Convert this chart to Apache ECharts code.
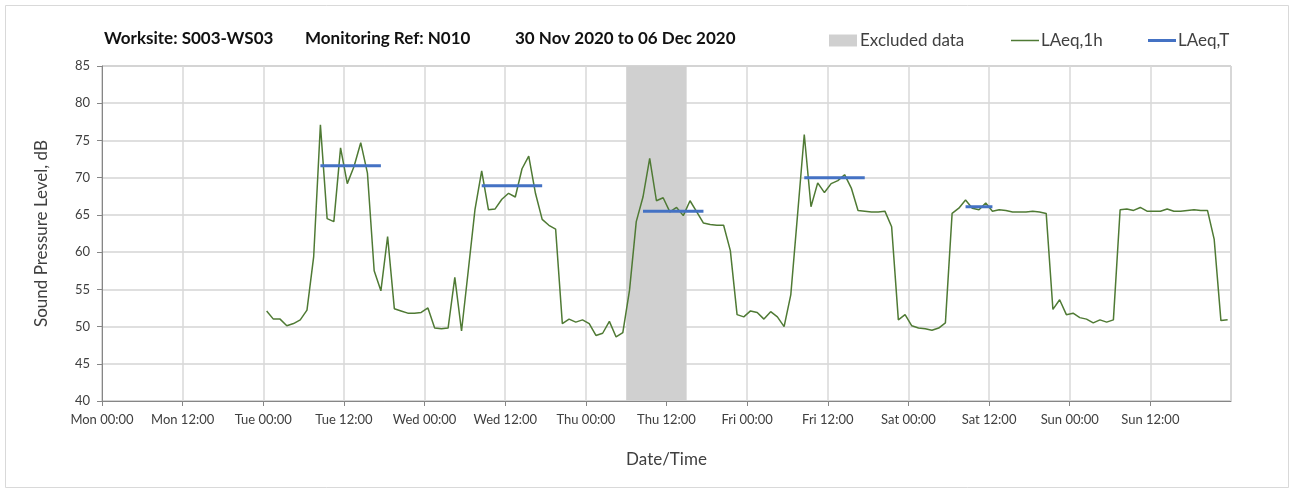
<!DOCTYPE html>
<html>
<head>
<meta charset="utf-8">
<script src="https://cdn.jsdelivr.net/npm/echarts@6/dist/echarts.min.js"></script>
<style>
  html, body { margin: 0; padding: 0; background: #ffffff; }
  #chart { width: 1295px; height: 492px; }
</style>
</head>
<body>
<div id="chart"></div>
<script>
// Axis tick labels, one every 12 hours from Monday 00:00
const tickLabels = [
  'Mon 00:00', 'Mon 12:00', 'Tue 00:00', 'Tue 12:00', 'Wed 00:00', 'Wed 12:00',
  'Thu 00:00', 'Thu 12:00', 'Fri 00:00', 'Fri 12:00', 'Sat 00:00', 'Sat 12:00',
  'Sun 00:00', 'Sun 12:00'
];

// Hourly LAeq,1h (dB), Tuesday to Sunday, one value per hour 00-23
const laeq1hTue = [52.1, 51.0, 51.0, 50.1, 50.4, 50.9, 52.2, 59.4, 77.1, 64.5, 64.1, 74.0,
                   69.2, 71.5, 74.7, 70.6, 57.5, 54.8, 62.1, 52.4, 52.1, 51.8, 51.8, 51.9];
const laeq1hWed = [52.5, 49.8, 49.7, 49.8, 56.6, 49.4, 57.5, 65.7, 70.9, 65.7, 65.8, 67.1,
                   67.9, 67.4, 71.2, 72.9, 67.9, 64.4, 63.6, 63.1, 50.4, 51.0, 50.6, 50.9];
const laeq1hThu = [50.4, 48.8, 49.1, 50.7, 48.6, 49.2, 54.9, 64.1, 67.4, 72.6, 66.9, 67.3,
                   65.4, 66.0, 64.9, 66.9, 65.4, 63.9, 63.7, 63.6, 63.6, 60.2, 51.6, 51.3];
const laeq1hFri = [52.1, 51.9, 51.0, 52.0, 51.3, 50.0, 54.3, 65.0, 75.8, 66.1, 69.3, 68.0,
                   69.2, 69.6, 70.4, 68.6, 65.6, 65.5, 65.4, 65.4, 65.5, 63.4, 50.9, 51.6];
const laeq1hSat = [50.1, 49.8, 49.7, 49.5, 49.8, 50.5, 65.2, 65.9, 67.0, 65.9, 65.7, 66.6,
                   65.5, 65.7, 65.6, 65.4, 65.4, 65.4, 65.5, 65.4, 65.2, 52.3, 53.6, 51.6];
const laeq1hSun = [51.8, 51.2, 51.0, 50.5, 50.9, 50.6, 50.9, 65.7, 65.8, 65.6, 66.0, 65.5,
                   65.5, 65.5, 65.8, 65.5, 65.5, 65.6, 65.7, 65.6, 65.6, 61.7, 50.8, 50.9];

// LAeq,T for each working period (day index counted from Monday = 0)
const laeqTDays = [1, 2, 3, 4, 5];
const laeqTValues = [71.6, 68.9, 65.5, 70.0, 66.1];
const laeqTFirstHour = [8, 8, 8, 8, 8];
const laeqTLastHour = [17, 17, 17, 17, 12];

// Excluded period, hours from Monday 00:00 (Thu 06:00 to Thu 15:00)
const excludedPeriod = [78, 87];

// Each hourly value is plotted at the middle of its hour
const sampleOffset = 0.5;

const hourlyDays = [laeq1hTue, laeq1hWed, laeq1hThu, laeq1hFri, laeq1hSat, laeq1hSun];
const firstHourlyDay = 1;

const hourlySeriesData = [];
hourlyDays.forEach((values, d) => {
  values.forEach((v, h) => {
    hourlySeriesData.push([(firstHourlyDay + d) * 24 + h + sampleOffset, v]);
  });
});

const FONT = 'Lato, "Noto Sans", "DejaVu Sans", sans-serif';
const TEXT = '#404040';

const laeqTSeries = laeqTDays.map((day, i) => {
  const pts = [];
  for (let h = laeqTFirstHour[i]; h <= laeqTLastHour[i]; h++) {
    pts.push([day * 24 + h + sampleOffset, laeqTValues[i]]);
  }
  return {
    name: 'LAeq,T',
    type: 'line',
    data: pts,
    symbol: 'none',
    z: 4,
    lineStyle: { color: '#4472C4', width: 3 },
    itemStyle: { color: '#4472C4' },
    silent: true
  };
});

const titleStyle = { fontFamily: FONT, fontSize: 17, fontWeight: 'bold', color: '#111111' };
const legendText = { fontFamily: FONT, fontSize: 17, color: TEXT };

const chart = echarts.init(document.getElementById('chart'), null, { renderer: 'canvas' });

chart.setOption({
  animation: false,
  backgroundColor: '#ffffff',
  textStyle: { fontFamily: FONT },
  graphic: [{
    type: 'rect',
    shape: { x: 5.5, y: 5.5, width: 1283, height: 482 },
    style: { fill: 'none', stroke: '#d9d9d9', lineWidth: 1 },
    silent: true,
    z: -10
  }],
  title: [
    { text: 'Worksite: S003-WS03', left: 104, top: 30, padding: 0, textStyle: titleStyle },
    { text: 'Monitoring Ref: N010', left: 305, top: 30, padding: 0, textStyle: titleStyle },
    { text: '30 Nov 2020 to 06 Dec 2020', left: 515, top: 30, padding: 0, textStyle: titleStyle }
  ],
  legend: [
    { data: [{ name: 'Excluded data', icon: 'rect' }], left: 829, top: 32, padding: 0,
      itemWidth: 28, itemHeight: 12, itemGap: 0, selectedMode: false,
      textStyle: Object.assign({ padding: [0, 0, 0, -2] }, legendText) },
    { data: [{ name: 'LAeq,1h', icon: 'rect' }], left: 1011, top: 32, padding: 0,
      itemWidth: 28, itemHeight: 1.5, itemGap: 0, selectedMode: false,
      textStyle: Object.assign({ padding: [0, 0, 0, -3] }, legendText) },
    { data: [{ name: 'LAeq,T', icon: 'rect' }], left: 1148, top: 32, padding: 0,
      itemWidth: 28, itemHeight: 3, itemGap: 0, selectedMode: false,
      textStyle: Object.assign({ padding: [0, 0, 0, -3] }, legendText) }
  ],
  grid: {
    left: 102, right: 64, top: 66, bottom: 91,
    show: true, borderColor: '#a6a6a6', borderWidth: 1, backgroundColor: 'transparent'
  },
  xAxis: {
    type: 'value',
    min: 0, max: 168, interval: 12,
    name: 'Date/Time',
    nameLocation: 'middle',
    nameGap: 50,
    nameTextStyle: { fontFamily: FONT, fontSize: 17, color: TEXT },
    axisLine: { show: true, lineStyle: { color: '#868686', width: 1 } },
    axisTick: { show: true, length: 5, lineStyle: { color: '#868686' } },
    axisLabel: {
      fontFamily: FONT, fontSize: 13, color: TEXT, margin: 12,
      showMaxLabel: false,
      formatter: v => tickLabels[Math.round(v / 12)] || ''
    },
    splitLine: { show: true, lineStyle: { color: '#d9d9d9', width: 1.5 } }
  },
  yAxis: {
    type: 'value',
    min: 40, max: 85, interval: 5,
    name: 'Sound Pressure Level, dB',
    nameLocation: 'middle',
    nameGap: 52,
    nameTextStyle: { fontFamily: FONT, fontSize: 17, color: TEXT },
    axisLine: { show: true, lineStyle: { color: '#868686', width: 1 } },
    axisTick: { show: true, length: 5, inside: false, lineStyle: { color: '#868686' } },
    axisLabel: { fontFamily: FONT, fontSize: 13, color: TEXT, margin: 12 },
    splitLine: { show: true, lineStyle: { color: '#d4d4d4', width: 1.5 } }
  },
  series: [
    {
      name: 'Excluded data',
      type: 'line',
      data: [],
      z: 1,
      itemStyle: { color: '#d0d0d0' },
      lineStyle: { color: '#d0d0d0' },
      markArea: {
        silent: true,
        itemStyle: { color: '#d0d0d0', opacity: 1 },
        data: [[{ xAxis: excludedPeriod[0] }, { xAxis: excludedPeriod[1] }]]
      }
    },
    {
      name: 'LAeq,1h',
      type: 'line',
      data: hourlySeriesData,
      symbol: 'none',
      z: 3,
      lineStyle: { color: '#4f7a34', width: 1.5 },
      itemStyle: { color: '#4f7a34' },
      silent: true
    },
    ...laeqTSeries
  ]
});
</script>
</body>
</html>
